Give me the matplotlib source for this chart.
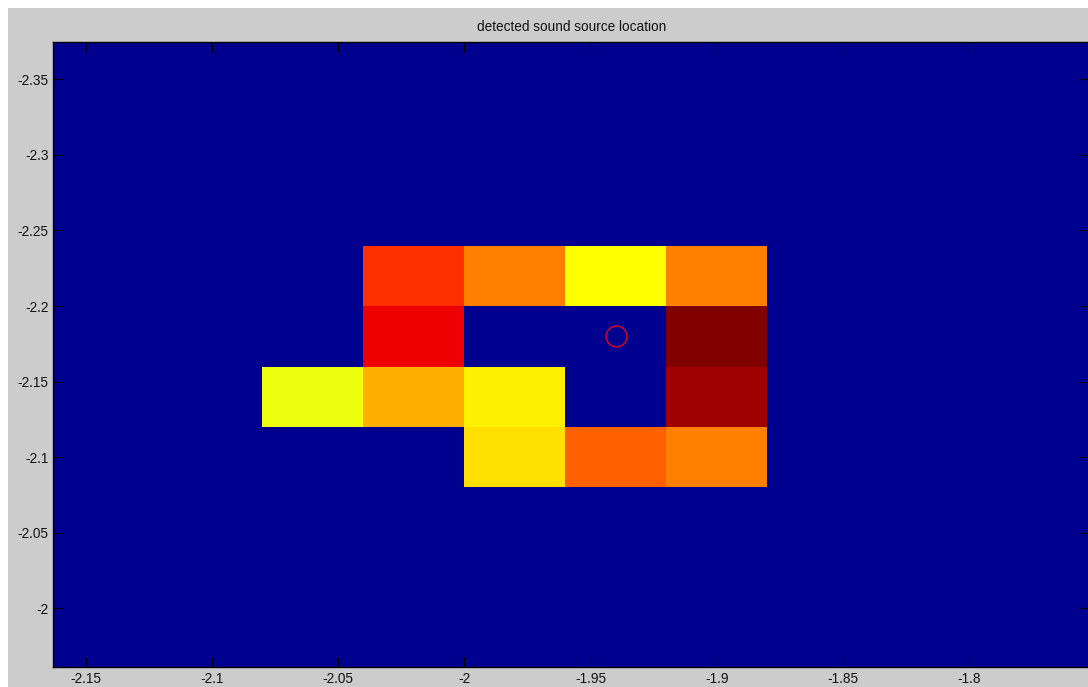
import numpy as np
import matplotlib
matplotlib.use("Agg")
import matplotlib.pyplot as plt
from matplotlib.colors import ListedColormap
from matplotlib.patches import Rectangle

# ---- data ----
x_centers = [-2.06, -2.02, -1.98, -1.94, -1.90]
y_centers = [-2.22, -2.18, -2.14, -2.10]
# normalized intensity (0 = background)
row_222 = [0.0, 0.825, 0.746, 0.619, 0.746]
row_218 = [0.0, 0.889, 0.0, 0.0, 1.0]
row_214 = [0.603, 0.698, 0.635, 0.0, 0.968]
row_210 = [0.0, 0.0, 0.651, 0.778, 0.746]
source_x = [-1.94]
source_y = [-2.18]
title_text = "detected sound source location"
x_ticks = [-2.15, -2.1, -2.05, -2, -1.95, -1.9, -1.85, -1.8]
y_ticks = [-2.35, -2.3, -2.25, -2.2, -2.15, -2.1, -2.05, -2]


def matlab_jet(m=64):
    n = int(np.ceil(m / 4))
    u = np.concatenate([np.arange(1, n + 1) / n, np.ones(n - 1), np.arange(n, 0, -1) / n])
    g = int(np.ceil(n / 2)) - (1 if m % 4 == 1 else 0) + np.arange(1, len(u) + 1)
    r = g + n
    b = g - n
    J = np.zeros((m, 3))
    for idx, val in zip(r, u):
        if 1 <= idx <= m:
            J[idx - 1, 0] = val
    for idx, val in zip(g, u):
        if 1 <= idx <= m:
            J[idx - 1, 1] = val
    for idx, val in zip(b, u):
        if 1 <= idx <= m:
            J[idx - 1, 2] = val
    return ListedColormap(J)


cmap = matlab_jet(64)
Z = np.array([row_222, row_218, row_214, row_210])

W, H = 1088, 687
fig = plt.figure(figsize=(W / 100, H / 100), dpi=100, facecolor="white")
fig.patches.append(Rectangle((8 / W, 0), 1 - 8 / W, (H - 8) / H,
                             transform=fig.transFigure, facecolor="#cccccc",
                             edgecolor="none", zorder=-10))

left_px, right_px, top_px, bottom_px = 53.3, 1090.0, 41.7, 667.0
ax = fig.add_axes([left_px / W, (H - bottom_px) / H,
                   (right_px - left_px) / W, (bottom_px - top_px) / H])
ax.set_facecolor(cmap(0))

ax.pcolormesh(x_centers, y_centers, Z, cmap=cmap, vmin=0, vmax=1,
              shading="nearest", antialiased=False)
ax.plot(source_x, source_y, marker="o", markersize=15, markerfacecolor="none",
        markeredgecolor="#e00020", markeredgewidth=1.0, linestyle="none")

ax.set_xlim(-2.1628, -1.7522)
ax.set_ylim(-1.9612, -2.3749)

ax.set_xticks(x_ticks)
ax.set_xticklabels([f"{v:g}" for v in x_ticks])
ax.set_yticks(y_ticks)
ax.set_yticklabels([f"{v:g}" for v in y_ticks])

ax.tick_params(direction="in", length=7.2, width=0.8, color="black",
               top=True, right=True, labelsize=9.8, pad=3.5,
               labelcolor="#111111")
for lab in ax.get_xticklabels() + ax.get_yticklabels():
    lab.set_family("Liberation Sans")
for s in ax.spines.values():
    s.set_color("black")
    s.set_linewidth(1.0)

ax.set_title(title_text, fontsize=9.8, family="Liberation Sans", pad=7.5,
             color="#111111")

fig.savefig("out.png", dpi=100, facecolor=fig.get_facecolor())
